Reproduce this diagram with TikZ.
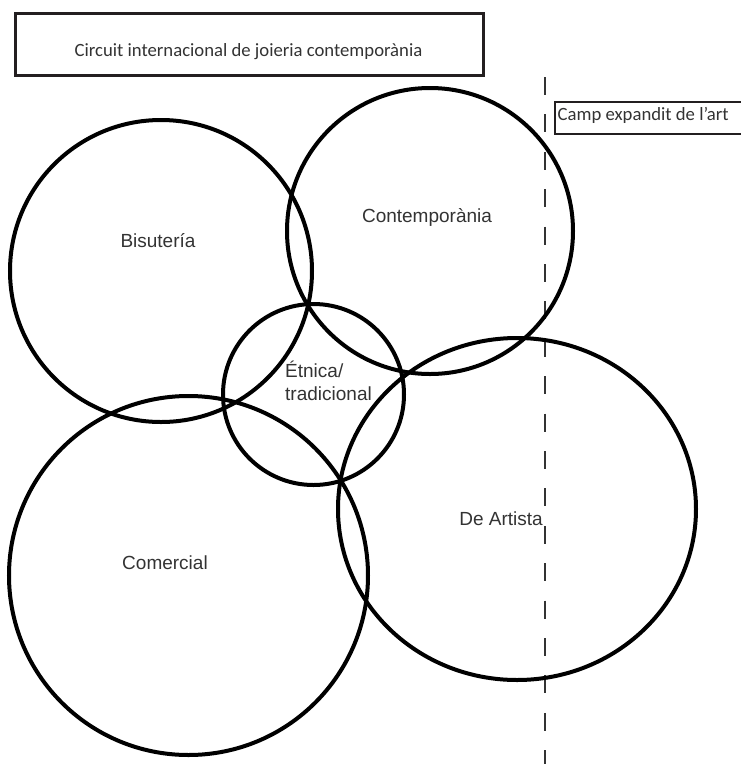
\documentclass[tikz,border=0pt]{standalone}
\usepackage{fontspec}
\setmainfont{Liberation Sans}
\newfontfamily\boxfont{Carlito}
\definecolor{inkgray}{HTML}{333333}
\definecolor{framegray}{HTML}{231F20}

\begin{document}
\begin{tikzpicture}[x=1pt, y=-1pt,
    ring/.style={line width=4pt, black},
    framebox/.style={line width=3pt, framegray},
    boxlabel/.style={inkgray, inner sep=0pt, font=\boxfont\fontsize{18.7}{22}\selectfont},
    setlabel/.style={inkgray, inner sep=0pt, anchor=base, font=\fontsize{19}{23}\selectfont}]
  \useasboundingbox (0,0) rectangle (741,764);
  \clip (0,0) rectangle (741,764);

  % --- Frames ---
  \draw[framebox] (15,13) rectangle (483,75);
  \node[boxlabel, anchor=base] (circuit) at (248.5,56) {Circuit internacional de joieria contemporània};
  \draw[framebox, line width=2.7pt] (555,102) rectangle (760,134);
  \node[boxlabel, anchor=base west] (expandit) at (557.5,120) {Camp expandit de l’art};

  % --- Limit of the expanded field ---
  \coordinate (limtop) at (545,77);
  \coordinate (limbot) at (545,770);
  \draw[inkgray, line width=1.5pt, dash pattern=on 18pt off 19.4pt] (limtop) -- (limbot);

  % --- Sets ---
  \draw[ring] (161,271) circle (151);
  \node[setlabel] (bisuteria) at (158,247) {Bisutería};

  \draw[ring] (430,231) circle (143);
  \node[setlabel] (contemporania) at (427,222) {Contemporània};

  \draw[ring] (313.5,394.5) circle (90.5);
  \node[setlabel, anchor=base west, align=left] (etnica) at (285,400) {Étnica/\\tradicional};

  \draw[ring] (188.5,575.5) circle (179.5);
  \node[setlabel] (comercial) at (165,569) {Comercial};

  \draw[ring] (517,509) ellipse [x radius=179, y radius=171];
  \node[setlabel] (artista) at (501,525) {De Artista};
\end{tikzpicture}
\end{document}
